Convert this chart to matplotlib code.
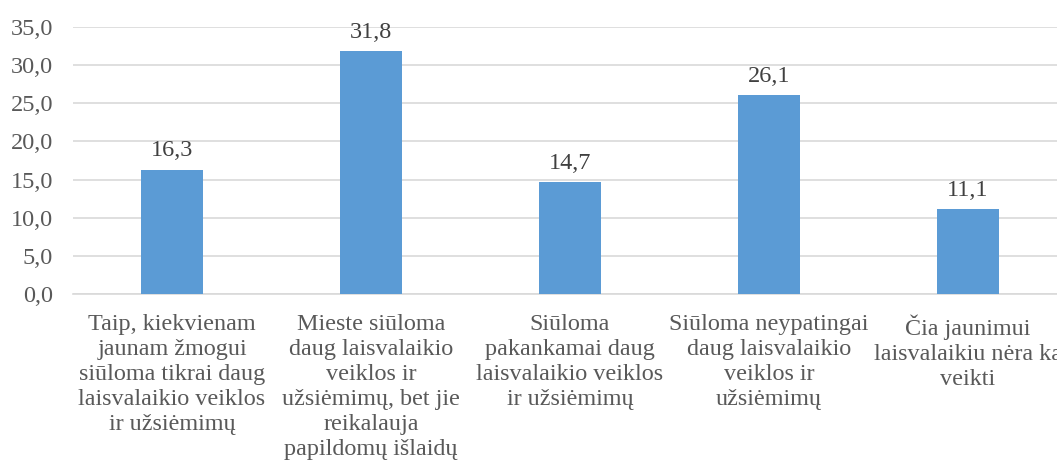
import matplotlib
matplotlib.use("Agg")
import matplotlib.pyplot as plt
from matplotlib.ticker import FuncFormatter

categories = [
    "Taip, kiekvienam\njaunam žmogui\nsiūloma tikrai daug\nlaisvalaikio veiklos\nir užsiėmimų",
    "Mieste siūloma\ndaug laisvalaikio\nveiklos ir\nužsiėmimų, bet jie\nreikalauja\npapildomų išlaidų",
    "Siūloma\npakankamai daug\nlaisvalaikio veiklos\nir užsiėmimų",
    "Siūloma neypatingai\ndaug laisvalaikio\nveiklos ir\nužsiėmimų",
    "Čia jaunimui\nlaisvalaikiu nėra ką\nveikti",
]
values = [16.3, 31.8, 14.7, 26.1, 11.1]
yticks = [0, 5, 10, 15, 20, 25, 30, 35]

plt.rcParams['font.family'] = ['Liberation Serif', 'DejaVu Serif']

fig = plt.figure(figsize=(10.57, 4.72), dpi=100)
ax = fig.add_axes([72.5/1057, 178/472, 995/1057, 267/472])

x = list(range(len(values)))
bars = ax.bar(x, values, width=0.31, color="#5B9BD5", zorder=3)
for xi, v in zip(x, values):
    ax.annotate(f"{v:.1f}".replace(".", ","), (xi, v), xytext=(0, 6),
                textcoords="offset points", ha="center", va="bottom",
                fontsize=17.5, color="#404040")

ax.set_xlim(-0.5, len(values) - 0.5)
ax.set_ylim(0, 35)
ax.set_yticks(yticks)
ax.yaxis.set_major_formatter(FuncFormatter(lambda v, p: f"{v:.1f}".replace(".", ",")))
ax.set_xticks(x)
ax.set_xticklabels(categories, fontsize=17.4, color="#595959", linespacing=1.25)
ax.tick_params(axis="y", labelsize=17.5, labelcolor="#595959", length=0, pad=14)
ax.tick_params(axis="x", length=0, pad=14.5)
ax.grid(axis="y", color="#D9D9D9", linewidth=1.2, zorder=0)
for s in ["top", "right", "left"]:
    ax.spines[s].set_visible(False)
ax.spines["bottom"].set_color("#D9D9D9")
ax.spines["bottom"].set_linewidth(1.2)

fig.savefig("out.png", dpi=100)
